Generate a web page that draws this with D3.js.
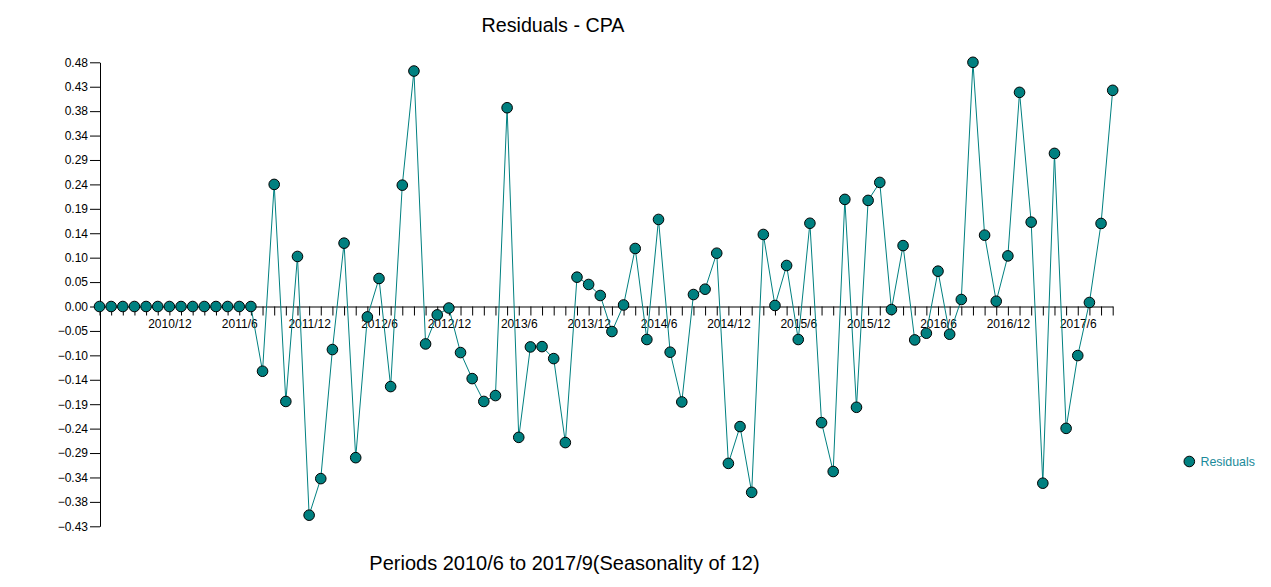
<!DOCTYPE html>
<html><head><meta charset="utf-8">
<script src="https://cdn.jsdelivr.net/npm/d3@7"></script>
<style>
html,body{margin:0;padding:0;background:#fff;}
svg{display:block;font-family:"Liberation Sans",Arial,sans-serif;}
</style></head>
<body>
<svg id="chart" width="1271" height="587"></svg>
<script>
const periods = ["2010/6","2010/7","2010/8","2010/9","2010/10","2010/11","2010/12",
"2011/1","2011/2","2011/3","2011/4","2011/5","2011/6","2011/7","2011/8","2011/9","2011/10","2011/11","2011/12",
"2012/1","2012/2","2012/3","2012/4","2012/5","2012/6","2012/7","2012/8","2012/9","2012/10","2012/11","2012/12",
"2013/1","2013/2","2013/3","2013/4","2013/5","2013/6","2013/7","2013/8","2013/9","2013/10","2013/11","2013/12",
"2014/1","2014/2","2014/3","2014/4","2014/5","2014/6","2014/7","2014/8","2014/9","2014/10","2014/11","2014/12",
"2015/1","2015/2","2015/3","2015/4","2015/5","2015/6","2015/7","2015/8","2015/9","2015/10","2015/11","2015/12",
"2016/1","2016/2","2016/3","2016/4","2016/5","2016/6","2016/7","2016/8","2016/9","2016/10","2016/11","2016/12",
"2017/1","2017/2","2017/3","2017/4","2017/5","2017/6","2017/7","2017/8","2017/9"];

const residuals = [0,0,0,0,0,0,0,0,0,0,0,0,0,0,
-0.1275,0.2405,-0.187,0.0986,-0.411,-0.339,-0.0848,0.1248,-0.2977,-0.0205,0.0552,-0.1577,0.239,0.4638,
-0.0737,-0.0165,-0.003,-0.0907,-0.142,-0.187,-0.1754,0.3915,-0.2577,-0.0796,-0.079,-0.1026,-0.268,
0.0578,0.0434,0.0217,-0.0493,0.003,0.1143,-0.065,0.1715,-0.090,-0.188,0.0236,0.0341,0.105,-0.309,
-0.2365,-0.366,0.1419,0.002,0.0808,-0.065,0.164,-0.2287,-0.325,0.211,-0.1985,0.209,0.2444,-0.006,
0.120,-0.0658,-0.0526,0.0696,-0.0546,0.0138,0.481,0.1405,0.0104,0.0997,0.4218,0.1662,-0.348,0.3016,
-0.240,-0.0966,0.0079,0.1636,0.4258];

const xTickLabels = ["2010/12","2011/6","2011/12","2012/6","2012/12","2013/6","2013/12","2014/6","2014/12","2015/6","2015/12","2016/6","2016/12","2017/6"];
const yTickValues = [0.481,0.4329,0.3848,0.3367,0.2886,0.2405,0.1924,0.1443,0.0962,0.0481,0,
-0.0481,-0.0962,-0.1443,-0.1924,-0.2405,-0.2886,-0.3367,-0.3848,-0.4329];

const titleText = "Residuals - CPA";
const xTitleText = "Periods 2010/6 to 2017/9(Seasonality of 12)";
const seriesName = "Residuals";

const svg = d3.select("#chart");
const teal = "#008080";

const x = d3.scalePoint().domain(periods).range([99.5, 1112.7]);
const y = d3.scaleLinear().domain([-0.4329, 0.481]).range([526.3, 62.3]);

// titles
svg.append("text").attr("x", 553).attr("y", 32.3).attr("text-anchor","middle")
  .attr("font-size","19.7px").attr("fill","#000").text(titleText);
svg.append("text").attr("x", 564.5).attr("y", 570).attr("text-anchor","middle")
  .attr("font-size","20px").attr("fill","#000").text(xTitleText);

// y axis
const yAxis = d3.axisLeft(y).tickValues(yTickValues).tickSize(10).tickSizeOuter(0)
  .tickFormat(d3.format(".2f"));
const gy = svg.append("g").attr("transform","translate(100,0)").call(yAxis);
gy.select(".domain").attr("stroke","#000");
gy.selectAll(".tick line").attr("stroke","#000");
gy.selectAll(".tick text").attr("font-size","12px").attr("fill","#000")
  .attr("font-family","Liberation Sans, Arial, sans-serif").attr("x",-12);

// x axis at zero
const xAxis = d3.axisBottom(x).tickSize(9).tickSizeOuter(0)
  .tickFormat(d => xTickLabels.includes(d) ? d : "");
const gx = svg.append("g").attr("transform",`translate(0,${y(0)})`).call(xAxis);
gx.select(".domain").attr("stroke","#000");
gx.selectAll(".tick line").attr("stroke","#000");
gx.selectAll(".tick text").attr("font-size","12px").attr("fill","#000")
  .attr("font-family","Liberation Sans, Arial, sans-serif").attr("y",13).attr("dy","0.71em");

// line
const line = d3.line().x((d,i)=>x(periods[i])).y(d=>y(d));
svg.append("path").datum(residuals).attr("d", line)
  .attr("fill","none").attr("stroke",teal).attr("stroke-width",1);

// points
svg.append("g").selectAll("circle").data(residuals).join("circle")
  .attr("cx",(d,i)=>x(periods[i])).attr("cy",d=>y(d)).attr("r",5.3)
  .attr("fill",teal).attr("stroke","#000").attr("stroke-width",1);

// legend
svg.append("circle").attr("cx",1189.3).attr("cy",461.5).attr("r",5.3)
  .attr("fill",teal).attr("stroke","#000").attr("stroke-width",1);
svg.append("text").attr("x",1200.5).attr("y",466).attr("font-size","12.4px")
  .attr("fill","#1b8a9a").text(seriesName);
</script>
</body></html>
